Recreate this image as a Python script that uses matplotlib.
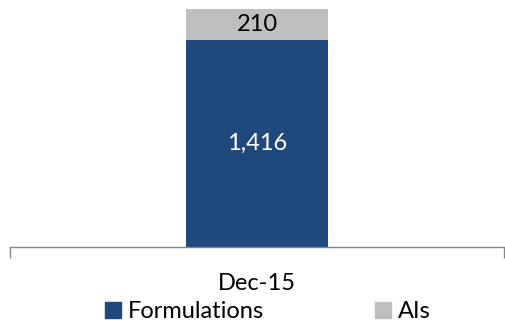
import matplotlib.pyplot as plt
from matplotlib.patches import Patch

categories = ['Dec-15']
formulations = [1416]
ais = [210]
series_names = ['Formulations', 'AIs']

blue = '#1F497D'
grey = '#BFBFBF'

plt.rcParams['font.family'] = ['Lato', 'DejaVu Sans']

fig = plt.figure(figsize=(5.05, 3.23), dpi=100)
ax = fig.add_axes([10/505, 76/323, 494/505, 238/323])

x = list(range(len(categories)))
bw = 0.2874
ax.bar(x, formulations, width=bw, color=blue)
ax.bar(x, ais, width=bw, bottom=formulations, color=grey)

for i in x:
    ax.text(i, formulations[i] / 2, f"{formulations[i]:,}", ha='center', va='center',
            color='white', fontsize=17)
    ax.text(i, formulations[i] + ais[i] / 2, f"{ais[i]:,}", ha='center', va='center',
            color='black', fontsize=17)

ax.set_xlim(-0.5, len(categories) - 0.5)
ax.set_ylim(0, formulations[0] + ais[0])
ax.set_yticks([])
for s in ['top', 'left', 'right']:
    ax.spines[s].set_visible(False)
ax.spines['bottom'].set_color('#868686')
ax.spines['bottom'].set_linewidth(1)
ax.set_xticks([-0.5, len(categories) - 0.5])
ax.set_xticklabels([])
ax.tick_params(axis='x', length=8, color='#868686', width=1)

for i, c in enumerate(categories):
    ax.text(i, -0.152, c, transform=ax.get_xaxis_transform(), ha='center', va='center',
            fontsize=17)

handles = [Patch(color=blue), Patch(color=grey)]
fig.legend(handles, series_names, loc='center', bbox_to_anchor=(268/505, 11/323),
           ncol=2, frameon=False, fontsize=17, handlelength=0.66, handleheight=0.66,
           handletextpad=0.3, columnspacing=4.7, borderpad=0)

fig.savefig('out.png', dpi=100)
